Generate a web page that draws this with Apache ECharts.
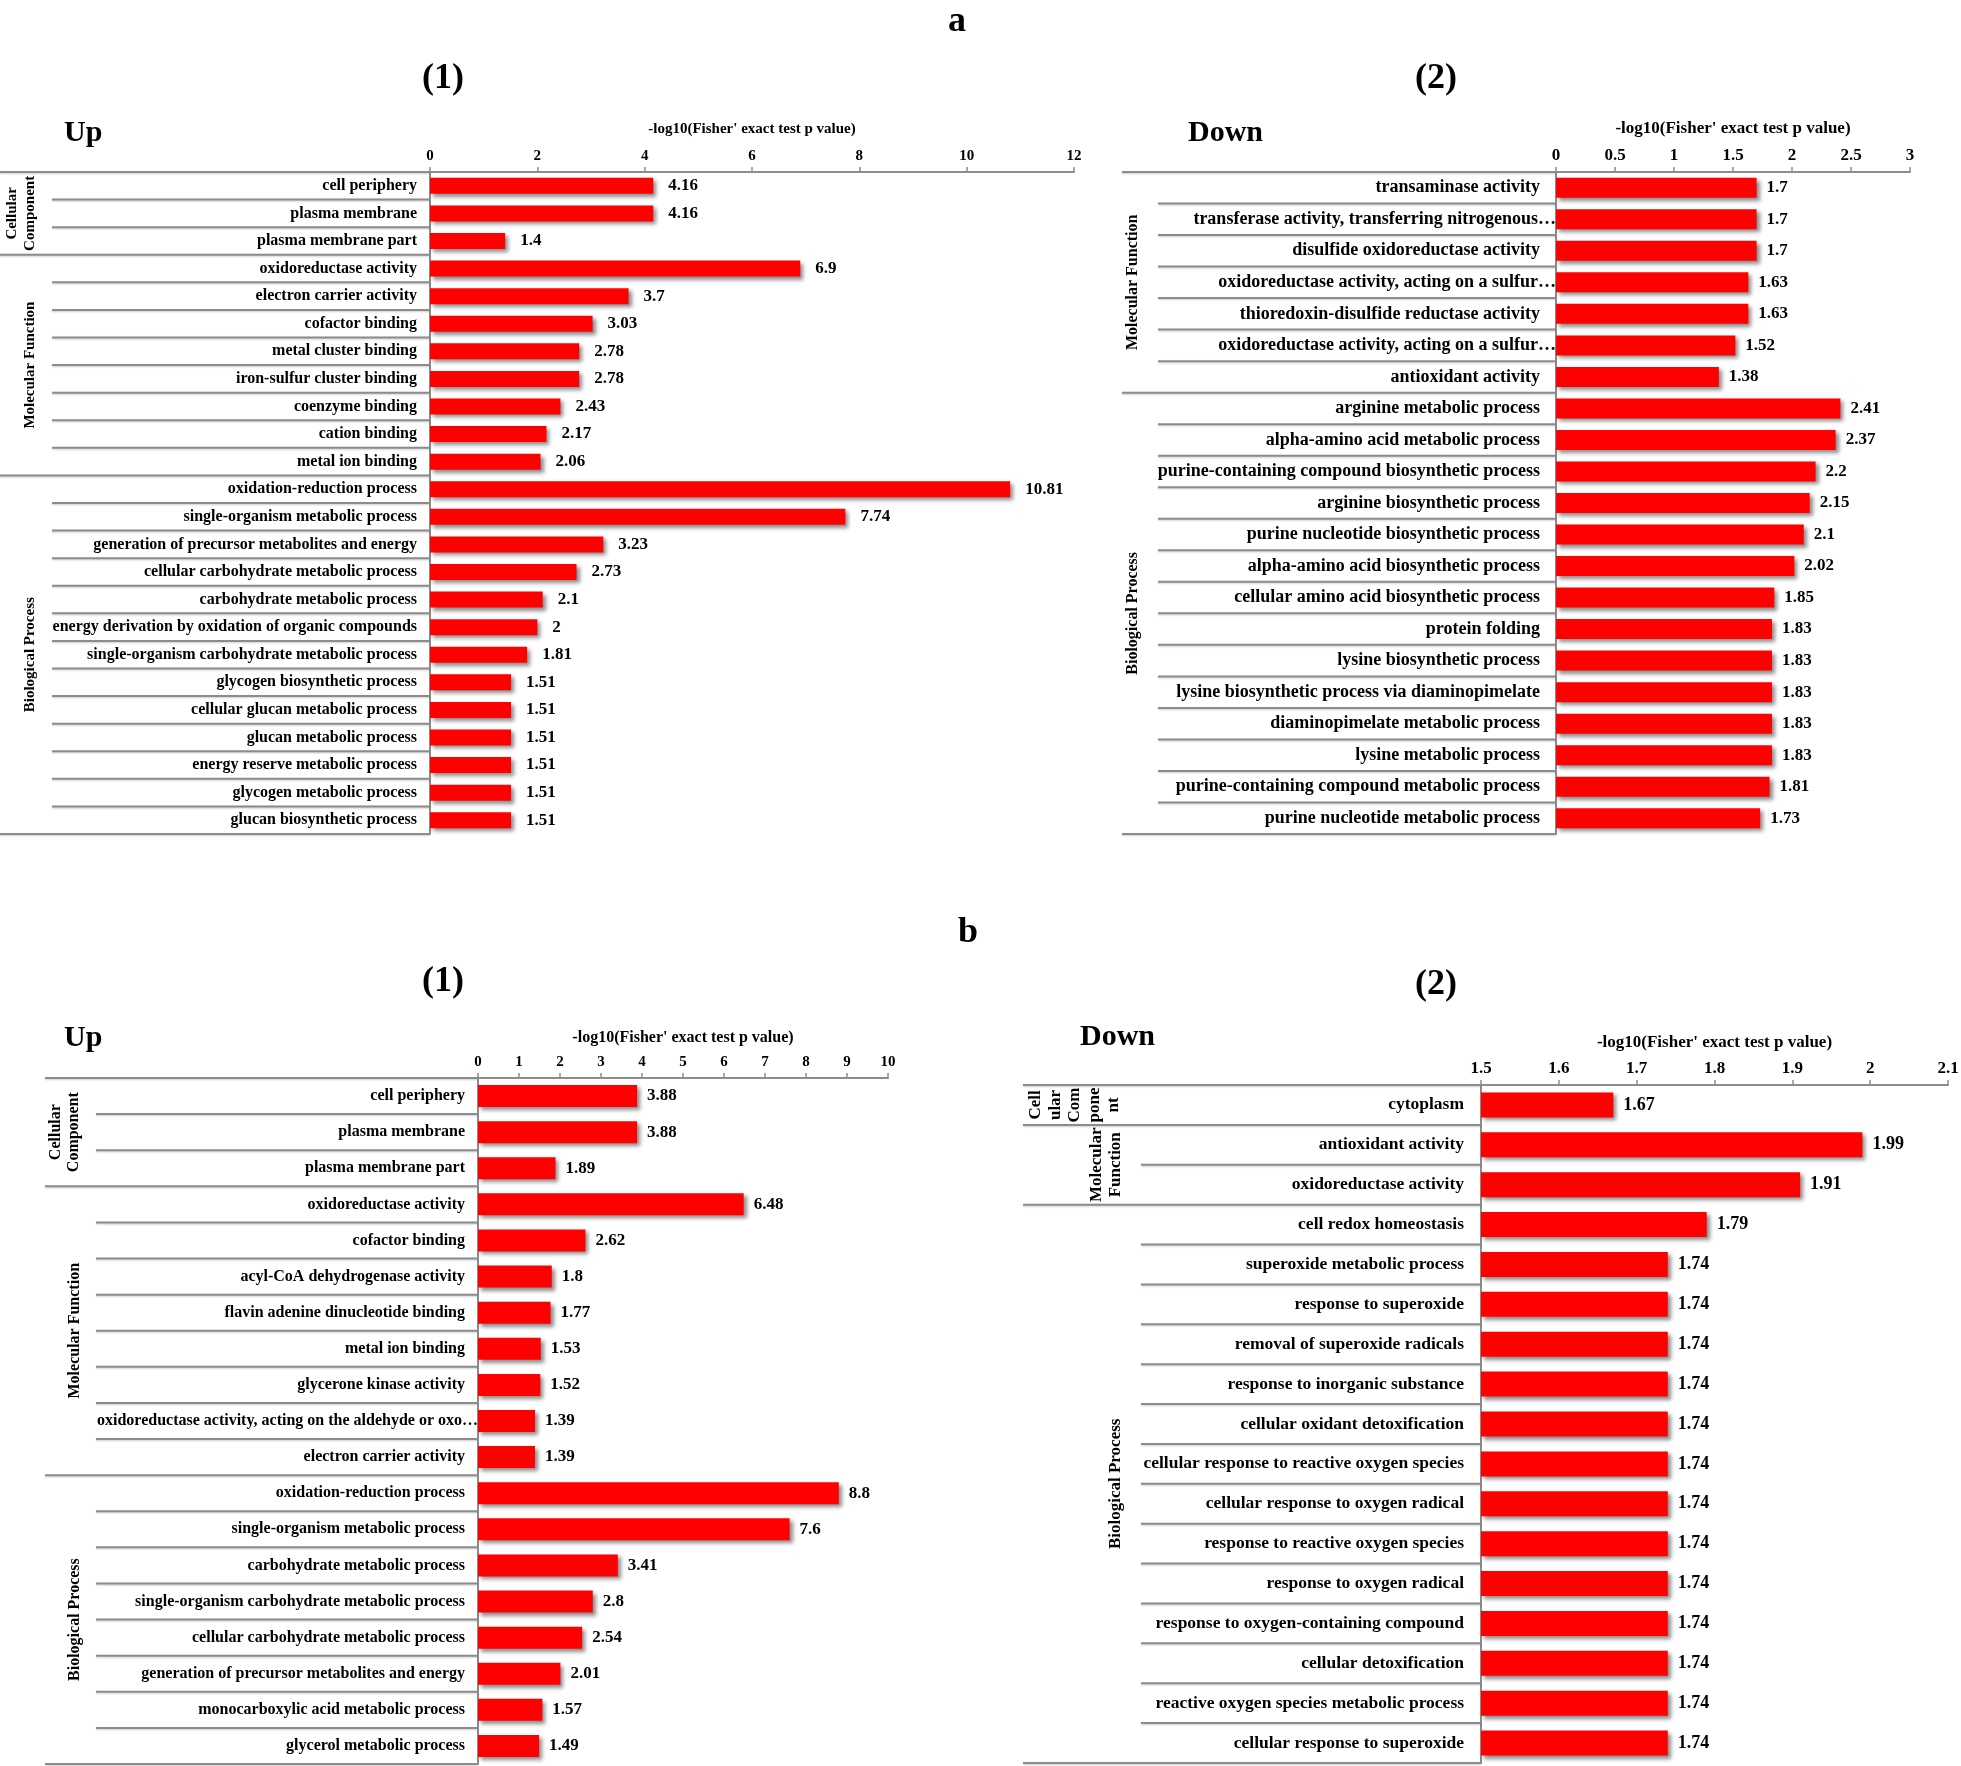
<!DOCTYPE html>
<html><head><meta charset="utf-8">
<script src="https://cdn.jsdelivr.net/npm/echarts@6/dist/echarts.min.js"></script>
<style>html,body{margin:0;padding:0;background:#fff}#c{width:1961px;height:1766px}</style>
</head><body><div id="c"></div>
<script>
// ---------------- DATA ----------------
const a1Categories = ['cell periphery','plasma membrane','plasma membrane part','oxidoreductase activity','electron carrier activity','cofactor binding','metal cluster binding','iron-sulfur cluster binding','coenzyme binding','cation binding','metal ion binding','oxidation-reduction process','single-organism metabolic process','generation of precursor metabolites and energy','cellular carbohydrate metabolic process','carbohydrate metabolic process','energy derivation by oxidation of organic compounds','single-organism carbohydrate metabolic process','glycogen biosynthetic process','cellular glucan metabolic process','glucan metabolic process','energy reserve metabolic process','glycogen metabolic process','glucan biosynthetic process'];
const a1Values = [4.16,4.16,1.4,6.9,3.7,3.03,2.78,2.78,2.43,2.17,2.06,10.81,7.74,3.23,2.73,2.1,2,1.81,1.51,1.51,1.51,1.51,1.51,1.51];
const a1GroupNames = ['Cellular\nComponent','Molecular Function','Biological Process'];
const a1GroupSizes = [3,8,13];
const a1AxisTicks = [0,12,2];

const a2Categories = ['transaminase activity','transferase activity, transferring nitrogenous…','disulfide oxidoreductase activity','oxidoreductase activity, acting on a sulfur…','thioredoxin-disulfide reductase activity','oxidoreductase activity, acting on a sulfur…','antioxidant activity','arginine metabolic process','alpha-amino acid metabolic process','purine-containing compound biosynthetic process','arginine biosynthetic process','purine nucleotide biosynthetic process','alpha-amino acid biosynthetic process','cellular amino acid biosynthetic process','protein folding','lysine biosynthetic process','lysine biosynthetic process via diaminopimelate','diaminopimelate metabolic process','lysine metabolic process','purine-containing compound metabolic process','purine nucleotide metabolic process'];
const a2Values = [1.7,1.7,1.7,1.63,1.63,1.52,1.38,2.41,2.37,2.2,2.15,2.1,2.02,1.85,1.83,1.83,1.83,1.83,1.83,1.81,1.73];
const a2GroupNames = ['Molecular Function','Biological Process'];
const a2GroupSizes = [7,14];
const a2AxisTicks = [0,3,0.5];

const b1Categories = ['cell periphery','plasma membrane','plasma membrane part','oxidoreductase activity','cofactor binding','acyl-CoA dehydrogenase activity','flavin adenine dinucleotide binding','metal ion binding','glycerone kinase activity','oxidoreductase activity, acting on the aldehyde or oxo…','electron carrier activity','oxidation-reduction process','single-organism metabolic process','carbohydrate metabolic process','single-organism carbohydrate metabolic process','cellular carbohydrate metabolic process','generation of precursor metabolites and energy','monocarboxylic acid metabolic process','glycerol metabolic process'];
const b1Values = [3.88,3.88,1.89,6.48,2.62,1.8,1.77,1.53,1.52,1.39,1.39,8.8,7.6,3.41,2.8,2.54,2.01,1.57,1.49];
const b1GroupNames = ['Cellular\nComponent','Molecular Function','Biological Process'];
const b1GroupSizes = [3,8,8];
const b1AxisTicks = [0,10,1];

const b2Categories = ['cytoplasm','antioxidant activity','oxidoreductase activity','cell redox homeostasis','superoxide metabolic process','response to superoxide','removal of superoxide radicals','response to inorganic substance','cellular oxidant detoxification','cellular response to reactive oxygen species','cellular response to oxygen radical','response to reactive oxygen species','response to oxygen radical','response to oxygen-containing compound','cellular detoxification','reactive oxygen species metabolic process','cellular response to superoxide'];
const b2Values = [1.67,1.99,1.91,1.79,1.74,1.74,1.74,1.74,1.74,1.74,1.74,1.74,1.74,1.74,1.74,1.74,1.74];
const b2GroupNames = ['Cell\nular\nCom\npone\nnt','Molecular\nFunction','Biological Process'];
const b2GroupSizes = [1,2,14];
const b2AxisTicks = [1.5,2.1,0.1];

const axisTitle = "-log10(Fisher' exact test p value)";

// ---------------- LAYOUT ----------------
const FONT = '"Liberation Serif","Times New Roman",serif';
const LINE = '#8c8c8c';
const panels = [
  {cats:a1Categories, vals:a1Values, gNames:a1GroupNames, gSizes:a1GroupSizes, ticks:a1AxisTicks,
   grid:{left:430, top:172, width:644, height:662}, tableLeft:0, innerLeft:52, groupX:[21,30,30],
   barWidth:16, labelSize:16, tickSize:15, titleSize:15, valueSize:17, groupSize:15, labelGap:13, valueGap:15, nameGap:35},
  {cats:a2Categories, vals:a2Values, gNames:a2GroupNames, gSizes:a2GroupSizes, ticks:a2AxisTicks,
   grid:{left:1556, top:172, width:354, height:662}, tableLeft:1122, innerLeft:1158, groupX:[1133,1133],
   barWidth:20, labelSize:18, tickSize:17, titleSize:17, valueSize:17, groupSize:16, labelGap:16, valueGap:10, nameGap:35},
  {cats:b1Categories, vals:b1Values, gNames:b1GroupNames, gSizes:b1GroupSizes, ticks:b1AxisTicks,
   grid:{left:478, top:1078, width:410, height:686}, tableLeft:45, innerLeft:96, groupX:[65,75,75],
   barWidth:22, labelSize:16, tickSize:15, titleSize:16, valueSize:17, groupSize:16, labelGap:13, valueGap:10, nameGap:32},
  {cats:b2Categories, vals:b2Values, gNames:b2GroupNames, gSizes:b2GroupSizes, ticks:b2AxisTicks,
   grid:{left:1481, top:1085, width:467, height:678}, tableLeft:1023, innerLeft:1141, groupX:[1075,1106,1116],
   barWidth:25, labelSize:17.5, tickSize:17, titleSize:17, valueSize:18, groupSize:17, labelGap:17, valueGap:10, nameGap:34}
];

const option = {
  animation:false,
  backgroundColor:'#fff',
  grid: panels.map(p => Object.assign({outerBoundsMode:'none', containLabel:false}, p.grid)),
  xAxis: panels.map((p,k) => ({
    type:'value', gridIndex:k, position:'top', min:p.ticks[0], max:p.ticks[1], interval:p.ticks[2],
    name:axisTitle, nameLocation:'middle', nameGap:p.nameGap,
    nameTextStyle:{fontFamily:FONT, fontWeight:'bold', fontSize:p.titleSize, color:'#000'},
    axisLine:{show:true, lineStyle:{color:LINE, width:2}},
    axisTick:{show:true, length:5, lineStyle:{color:LINE, width:1.5}},
    axisLabel:{fontFamily:FONT, fontWeight:'bold', fontSize:p.tickSize, color:'#000', margin:8},
    splitLine:{show:false}
  })),
  yAxis: panels.map((p,k) => ({
    type:'category', gridIndex:k, inverse:true, data:p.cats,
    axisLine:{show:true, onZero:false, lineStyle:{color:LINE, width:2}},
    axisTick:{show:false},
    splitLine:{show:false},
    axisLabel:{
      interval:0, margin:0, color:'#000',
      formatter: v => (v.slice(-1) === '…' ? '{e|' + v + '}' : '{n|' + v + '}'),
      rich:{
        n:{fontFamily:FONT, fontWeight:'bold', fontSize:p.labelSize, color:'#000', padding:[0,p.labelGap,0,0]},
        e:{fontFamily:FONT, fontWeight:'bold', fontSize:p.labelSize, color:'#000', padding:[0,0,0,0]}
      }
    }
  })),
  series: panels.map((p,k) => ({
    type:'bar', xAxisIndex:k, yAxisIndex:k, data:p.vals, barWidth:p.barWidth,
    itemStyle:{color:'#ff0000', shadowColor:'rgba(0,0,0,0.45)', shadowBlur:4, shadowOffsetX:3, shadowOffsetY:3},
    label:{show:true, position:'right', distance:p.valueGap, fontFamily:FONT, fontWeight:'bold', fontSize:p.valueSize, color:'#000'}
  }))
};

const chart = echarts.init(document.getElementById('c'));
chart.setOption(option);

// ---------- table lines & group labels derived from the axes ----------
const graphics = [];
function hline(x1, y, x2) {
  graphics.push({type:'line', silent:true, z:5,
    shape:{x1:x1, y1:y, x2:x2, y2:y},
    style:{stroke:LINE, lineWidth:2, shadowColor:'rgba(0,0,0,0.2)', shadowBlur:2, shadowOffsetY:1}});
}
function txt(x, y, s, size, rot) {
  graphics.push({type:'text', silent:true, z:6, x:x, y:y, rotation:rot || 0,
    style:{text:s, fontFamily:FONT, fontWeight:'bold', fontSize:size, fill:'#000', align:'center', verticalAlign:'middle', lineHeight:size*1.15}});
}
panels.forEach((p, k) => {
  const n = p.cats.length;
  const yc = i => chart.convertToPixel({gridIndex:k}, [p.ticks[0], i])[1];
  const x0 = chart.convertToPixel({gridIndex:k}, [p.ticks[0], 0])[0];
  const band = yc(1) - yc(0);
  hline(p.tableLeft, yc(0) - band/2, x0);
  let idx = 0;
  p.gSizes.forEach((s, gi) => {
    const gTop = yc(idx) - band/2;
    const gBot = yc(idx + s - 1) + band/2;
    for (let j = 1; j < s; j++) { const y = yc(idx + j) - band/2; hline(p.innerLeft, y, x0); }
    hline(p.tableLeft, gBot, x0);
    txt(p.groupX[gi], (gTop + gBot)/2, p.gNames[gi], p.groupSize, Math.PI/2);
    idx += s;
  });
});
// headings
txt(957, 22, 'a', 36); txt(443, 79, '(1)', 36); txt(1436, 79, '(2)', 36);
txt(968, 933, 'b', 36); txt(443, 982, '(1)', 36); txt(1436, 985, '(2)', 36);
graphics.push({type:'text', silent:true, x:64, y:133, style:{text:'Up', fontFamily:FONT, fontWeight:'bold', fontSize:30, fill:'#000', align:'left', verticalAlign:'middle'}});
graphics.push({type:'text', silent:true, x:1188, y:133, style:{text:'Down', fontFamily:FONT, fontWeight:'bold', fontSize:30, fill:'#000', align:'left', verticalAlign:'middle'}});
graphics.push({type:'text', silent:true, x:64, y:1038, style:{text:'Up', fontFamily:FONT, fontWeight:'bold', fontSize:30, fill:'#000', align:'left', verticalAlign:'middle'}});
graphics.push({type:'text', silent:true, x:1080, y:1037, style:{text:'Down', fontFamily:FONT, fontWeight:'bold', fontSize:30, fill:'#000', align:'left', verticalAlign:'middle'}});
chart.setOption({graphic:{elements:graphics}});
</script>
</body></html>
